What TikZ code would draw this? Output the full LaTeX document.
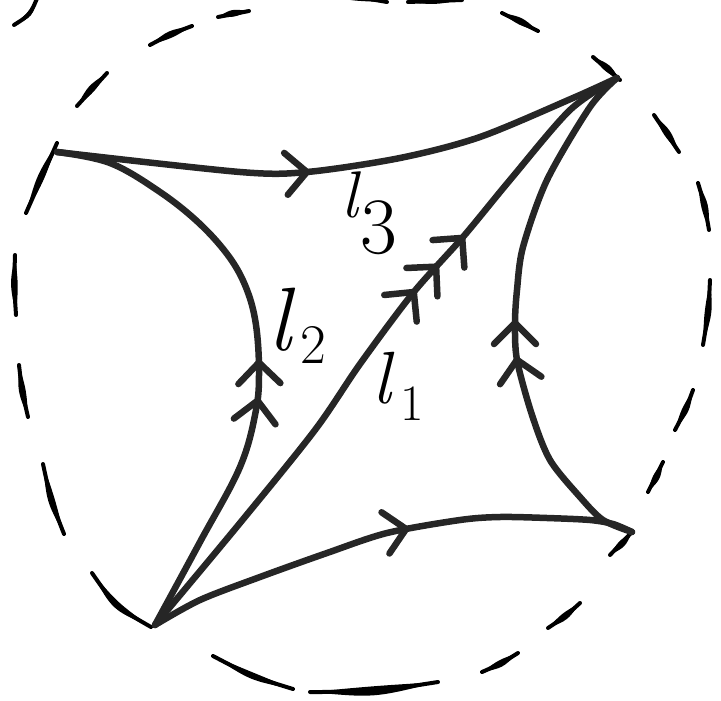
\documentclass[tikz,border=0pt]{standalone}
\usetikzlibrary{calc,decorations.markings}
\tikzset{
  edge/.style={line width=6.5pt, draw=black!85, line cap=round, line join=round},
  chev/.style={line width=6.5pt, draw=black!85, line cap=round, line join=round},
  dashink/.style={fill=black},
  dashline/.style={draw=black, line width=4pt, line cap=round},
  lbl/.style={inner sep=0pt, anchor=base west, text=black},
}
\newcommand\chevmark{\draw[chev] (-21pt,21pt) -- (0pt,0pt) -- (-21pt,-21pt);}
% hand-drawn dash of the boundary circle: [half width]{x1}{y1}{x2}{y2}{bulge}
\newcommand\hd[6][4.5]{%
  \pgfmathsetmacro\hdo{-(#6)-#1}%
  \pgfmathsetmacro\hdi{-(#6)+#1}%
  \pgfmathsetmacro\hdc{-(#6)}%
  \fill[dashink] (#2,#3) .. controls ($(#2,#3)!0.5!(#4,#5)!\hdo pt!(O)$) .. (#4,#5)
    .. controls ($(#2,#3)!0.5!(#4,#5)!\hdi pt!(O)$) .. cycle;
  \draw[dashline] (#2,#3) .. controls ($(#2,#3)!0.5!(#4,#5)!\hdc pt!(O)$) .. (#4,#5);}
\newcommand\lab[5]{{\fontsize{#1}{#1}\selectfont\itshape l}\hspace{#5}\raisebox{#4}{\fontsize{#2}{#2}\selectfont #3}}
\begin{document}
\begin{tikzpicture}[x=1pt,y=-1pt]
\useasboundingbox (0,0) rectangle (721,701);
\clip (0,0) rectangle (721,701);
\coordinate (O) at (362,350);
\coordinate (A) at (57,152);
\coordinate (B) at (617,78);
\coordinate (C) at (632,532);
\coordinate (D) at (155,625);

% boundary circle, drawn as dashes
\hd{26}{213}{57}{143}{1}
\hd{77}{106}{107}{73}{1}
\hd{150}{45}{192}{26}{1.5}
\hd{218}{17}{249}{11}{1}
\hd[5]{318}{-6}{387}{2}{2}
\hd[5]{408}{2}{462}{0}{1}
\hd{502}{13}{538}{31}{1}
\hd{593}{57}{620}{80}{1}
\hd{654}{115}{679}{152}{1}
\hd{698}{183}{709}{230}{1.5}
\hd{710}{280}{703}{345}{2}
\hd{693}{390}{675}{430}{1.5}
\hd{663}{462}{648}{492}{1}
\hd{632}{532}{610}{555}{1}
\hd{580}{603}{548}{628}{1.5}
\hd{518}{653}{482}{672}{1.5}
\hd[6]{438}{682}{310}{692}{5}
\hd{293}{689}{213}{656}{4}
\hd{151}{627}{92}{573}{9}
\hd{64}{534}{43}{464}{3}
\hd{28}{417}{19}{365}{1.5}
\hd{16}{315}{15}{255}{1.5}
\hd[3]{38}{-4}{14}{25}{-6}

% top edge
\draw[edge, postaction={decorate, decoration={markings,
    mark=at position 0.435 with {\chevmark}}}]
  plot[smooth, tension=0.5] coordinates {(A) (240,172) (307,172) (400,158) (480,137) (573,98) (B)};
% left edge
\draw[edge, postaction={decorate, decoration={markings,
    mark=at position 0.41 with {\chevmark},
    mark=at position 0.473 with {\chevmark}}}]
  plot[smooth, tension=0.6] coordinates {(D) (200,542) (240,467) (256,410) (259,370) (256,325) (247,290) (230,258) (200,224) (160,192) (110,163) (A)};
% diagonal l1
\draw[edge, postaction={decorate, decoration={markings,
    mark=at position 0.587 with {\chevmark},
    mark=at position 0.634 with {\chevmark},
    mark=at position 0.688 with {\chevmark}}}]
  plot[smooth, tension=0.5] coordinates {(D) (240,523) (315,430) (360,364) (413,293) (463,237) (510,180) (570,110) (B)};
% right edge
\draw[edge, postaction={decorate, decoration={markings,
    mark=at position 0.413 with {\chevmark},
    mark=at position 0.483 with {\chevmark}}}]
  plot[smooth, tension=0.5] coordinates {(C) (603,520) (580,497) (550,460) (532,415) (517,360) (515,323) (517,290) (523,247) (547,180) (590,107) (B)};
% bottom edge
\draw[edge, postaction={decorate, decoration={markings,
    mark=at position 0.541 with {\chevmark}}}]
  plot[smooth, tension=0.5] coordinates {(D) (200,600) (260,577) (327,553) (387,533) (460,520) (500,517) (547,518) (590,520) (613,524) (C)};

% labels
\node[lbl] (l3) at (341,217) {\lab{66}{80}{3}{-36pt}{3pt}};
\node[lbl] (l2) at (268,350) {\lab{90}{56}{2}{-13pt}{10pt}};
\node[lbl] (l1) at (372,403) {\lab{74}{51}{1}{-17pt}{10pt}};
\end{tikzpicture}
\end{document}
